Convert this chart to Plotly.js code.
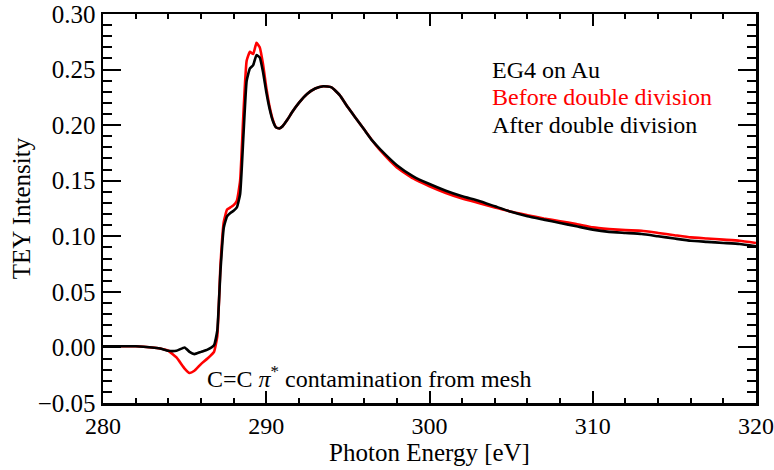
<!DOCTYPE html>
<html>
<head>
<meta charset="utf-8">
<script src="https://cdn.plot.ly/plotly-3.0.1.min.js"></script>
<style>html,body{margin:0;padding:0;background:#fff;}</style>
</head>
<body>
<div id="chart" style="width:774px;height:470px;"></div>
<script>
const energy = [280, 281, 282, 283, 283.5, 284, 284.5, 285, 285.3, 285.6, 286, 286.4, 286.8, 287.0, 287.2, 287.4, 287.6, 287.8, 288.0, 288.2, 288.4, 288.6, 288.8, 289.0, 289.2, 289.4, 289.6, 289.8, 290.0, 290.2, 290.4, 290.6, 290.8, 291.0, 291.3, 291.6, 292.0, 292.5, 293.0, 293.5, 294.0, 294.5, 295.0, 295.5, 296.0, 296.5, 297, 298, 299, 300, 301, 302, 303, 304, 305, 306, 307, 308, 309, 310, 311, 312, 313, 314, 315, 316, 317, 318, 319, 320];

const afterDivision = [0.001, 0.001, 0.001, 0.000, -0.001, -0.003, -0.003, 0.000, -0.004, -0.006, -0.004, -0.002, 0.002, 0.015, 0.070, 0.108, 0.118, 0.121, 0.123, 0.126, 0.138, 0.190, 0.240, 0.251, 0.254, 0.263, 0.261, 0.248, 0.230, 0.215, 0.204, 0.198, 0.197, 0.199, 0.205, 0.212, 0.220, 0.228, 0.233, 0.235, 0.234, 0.227, 0.216, 0.206, 0.196, 0.186, 0.178, 0.164, 0.154, 0.147, 0.141, 0.136, 0.132, 0.127, 0.122, 0.118, 0.115, 0.112, 0.109, 0.106, 0.104, 0.103, 0.102, 0.100, 0.098, 0.096, 0.095, 0.094, 0.093, 0.091];

const beforeDivision = [0.001, 0.001, 0.001, 0.000, -0.001, -0.003, -0.009, -0.019, -0.023, -0.021, -0.015, -0.010, -0.004, 0.010, 0.075, 0.113, 0.124, 0.126, 0.128, 0.132, 0.150, 0.210, 0.258, 0.266, 0.264, 0.274, 0.270, 0.255, 0.234, 0.217, 0.205, 0.198, 0.197, 0.199, 0.205, 0.212, 0.220, 0.228, 0.233, 0.235, 0.234, 0.227, 0.216, 0.206, 0.196, 0.186, 0.177, 0.162, 0.152, 0.145, 0.139, 0.134, 0.130, 0.126, 0.122, 0.119, 0.116, 0.1135, 0.111, 0.108, 0.1065, 0.1055, 0.105, 0.103, 0.101, 0.099, 0.098, 0.097, 0.096, 0.094];

const xTicks = [280, 290, 300, 310, 320];
const yTicks = [-0.05, 0.00, 0.05, 0.10, 0.15, 0.20, 0.25, 0.30];

const labelTitle = "EG4 on Au";
const labelBefore = "Before double division";
const labelAfter = "After double division";
const noteText = "C=C <i>π</i><sup>*</sup> contamination from mesh";

const FONT = "Liberation Serif, Times New Roman, serif";
const FS = 25;

const traces = [
  {x: energy, y: beforeDivision, type: 'scatter', mode: 'lines', name: labelBefore,
   line: {color: '#ff0000', width: 2.6, shape: 'spline', smoothing: 0.4}},
  {x: energy, y: afterDivision, type: 'scatter', mode: 'lines', name: labelAfter,
   line: {color: '#000000', width: 2.6, shape: 'spline', smoothing: 0.4}}
];

const layout = {
  width: 774, height: 470,
  margin: {l: 103, r: 18, t: 14, b: 67},
  paper_bgcolor: '#fff', plot_bgcolor: '#fff',
  showlegend: false,
  font: {family: FONT, size: FS, color: '#000'},
  xaxis: {
    range: [280, 320], tickvals: xTicks, ticktext: xTicks.map(String),
    showgrid: false, zeroline: false,
    showline: true, linewidth: 2.5, linecolor: '#000', mirror: 'ticks',
    ticks: 'inside', ticklen: 12, tickwidth: 2, tickcolor: '#000',
    minor: {dtick: 2, tick0: 280, ticks: 'inside', ticklen: 5, tickwidth: 2, tickcolor: '#000', showgrid: false},
    tickfont: {family: FONT, size: FS - 1, color: '#000'},
    ticklabeloverflow: 'allow',
    title: {text: 'Photon Energy [eV]', font: {family: FONT, size: FS, color: '#000'}, standoff: 3},
    automargin: false
  },
  yaxis: {
    range: [-0.05, 0.30], tickvals: yTicks, ticktext: yTicks.map(v => (v < 0 ? '\u2212' : '') + Math.abs(v).toFixed(2)),
    showgrid: false, zeroline: false,
    showline: true, linewidth: 2.5, linecolor: '#000', mirror: 'ticks',
    ticks: 'inside', ticklen: 18, tickwidth: 2, tickcolor: '#000',
    minor: {dtick: 0.01, tick0: 0, ticks: 'inside', ticklen: 9, tickwidth: 2, tickcolor: '#000', showgrid: false},
    tickfont: {family: FONT, size: FS, color: '#000'},
    ticklabeloverflow: 'allow',
    title: {text: 'TEY Intensity', font: {family: FONT, size: FS, color: '#000'}, standoff: 0},
    automargin: false
  },
  annotations: [
    {xref: 'paper', yref: 'paper', x: 0.593, y: 0.856, xanchor: 'left', yanchor: 'middle', showarrow: false,
     text: labelTitle, font: {family: FONT, size: FS - 1, color: '#000'}},
    {xref: 'paper', yref: 'paper', x: 0.593, y: 0.787, xanchor: 'left', yanchor: 'middle', showarrow: false,
     text: labelBefore, font: {family: FONT, size: FS - 1, color: '#ff0000'}},
    {xref: 'paper', yref: 'paper', x: 0.593, y: 0.715, xanchor: 'left', yanchor: 'middle', showarrow: false,
     text: labelAfter, font: {family: FONT, size: FS - 1, color: '#000'}},
    {xref: 'paper', yref: 'paper', x: 0.156, y: 0.067, xanchor: 'left', yanchor: 'middle', showarrow: false,
     text: noteText, font: {family: FONT, size: FS - 1, color: '#000'}}
  ]
};

Plotly.newPlot('chart', traces, layout, {displayModeBar: false, staticPlot: true});
</script>
</body>
</html>
